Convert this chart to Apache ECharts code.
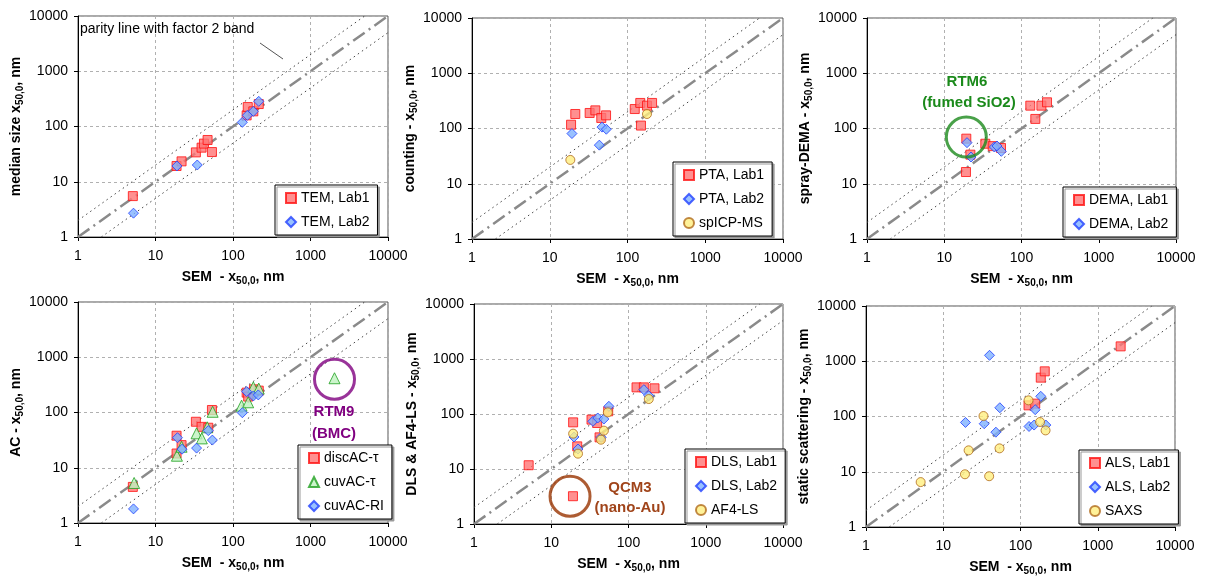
<!DOCTYPE html>
<html>
<head>
<meta charset="utf-8">
<script src="https://cdn.jsdelivr.net/npm/echarts@6.0.0/dist/echarts.min.js"></script>
<style>
  html, body { margin: 0; padding: 0; background: #fff; }
  #chart { width: 1206px; height: 580px; }
</style>
</head>
<body>
<div id="chart"></div>
<script>
// axis range (log10), SEM on x in every panel
const axisMin = 1;
const axisMax = 10000;

// parity line and factor 2 band
const parityLine = [[1, 1], [10000, 10000]];
const upperBand = [[1, 2], [5000, 10000]];
const lowerBand = [[2, 1], [10000, 5000]];

// panel 1 - TEM
const temLab1 = [[5.1, 5.5], [18.7, 19.3], [21.7, 23.4], [33.2, 34], [39.3, 41.4], [42.2, 49], [47, 57], [53.5, 34.5], [150, 159], [155, 225], [183, 188], [215, 255]];
const temLab2 = [[5.2, 2.7], [18.9, 19.3], [34.6, 20.1], [132, 119], [153, 159], [183, 188], [215, 285]];

// panel 2 - counting
const ptaLab1 = [[18.8, 117], [21.3, 183], [32.6, 191], [38.6, 213], [46, 155], [53, 173], [124, 225], [146, 290], [149, 113], [178, 259], [207, 290]];
const ptaLab2 = [[19.3, 81], [43.4, 50], [47, 106], [53.4, 97]];
const spIcpMs = [[18.4, 27], [178, 183]];

// panel 3 - spray-DEMA
const demaLab1 = [[19.3, 65.5], [21.8, 33.6], [19.1, 16.3], [34, 53], [42.4, 48], [54.3, 44.4], [130, 259], [151, 149], [181, 259], [214, 298]];
const demaLab2 = [[19.7, 55.4], [22.2, 30.5], [44.5, 46.3], [48.2, 48.2], [54.8, 38.6]];

// panel 4 - AC
const discAcTau = [[5.1, 4.5], [18.7, 38], [18.7, 18.1], [21.7, 25.7], [33.2, 68], [39.3, 55], [48, 53], [53.5, 111], [150, 229], [157, 194], [187, 263], [215, 249]];
const cuvAcTau = [[5.3, 5.3], [18.9, 16.5], [21.7, 24], [33.9, 42], [39.6, 34], [46.5, 54], [54.6, 103], [129, 133], [157, 153], [183, 286], [215, 271], [2040, 417]];
const cuvAcRi = [[5.2, 1.8], [19.2, 35], [22, 21.7], [33.9, 22.7], [48, 47], [54.2, 31.7], [132, 99], [150, 239], [183, 199], [212, 208]];

// panel 5 - DLS & AF4-LS
const dlsLab1 = [[5.1, 11.7], [19.1, 3.2], [19.2, 70.5], [21.7, 25.8], [33.2, 79], [39.3, 68.6], [42.2, 37.6], [54.6, 112], [127, 305], [158, 305], [217, 293]];
const dlsLab2 = [[19.7, 38.2], [22.2, 23.1], [34.6, 73.6], [40, 84.6], [44.3, 37.6], [48, 81], [55.7, 138], [158, 277], [183, 215]];
const af4Ls = [[19.2, 43.9], [22.2, 19], [44, 34.1], [48, 49.8], [54, 107], [183, 187]];

// panel 6 - static scattering
const alsLab1 = [[127, 159], [155, 171], [183, 505], [206, 657], [1980, 1860]];
const alsLab2 = [[39.7, 1280], [19.4, 78], [33.9, 74], [48, 52], [54, 144], [129, 66], [150, 70], [155, 133], [183, 232], [213, 70]];
const saxs = [[5.1, 6.5], [19.1, 9], [21.3, 24.4], [33.2, 102], [39.3, 8.3], [53.5, 26.5], [127, 196], [179, 79.5], [211, 56]];

// highlighted outliers (circled)
const rtm6 = [[19.3, 70]];
const rtm9 = [[2040, 400]];
const qcm3 = [[17.5, 3.2]];

const FONT = 'Liberation Sans, Arial, sans-serif';

const markerStyles = {
  red: { symbol: 'rect', symbolSize: 9, itemStyle: { color: '#ff7474', borderColor: '#ff1010', borderWidth: 1 } },
  blue: { symbol: 'diamond', symbolSize: 10, itemStyle: { color: '#80b2ff', borderColor: '#2040ff', borderWidth: 1 } },
  yellow: { symbol: 'circle', symbolSize: 9, itemStyle: { color: '#ffef80', borderColor: '#b06a1a', borderWidth: 1 } },
  green: { symbol: 'triangle', symbolSize: 11, itemStyle: { color: '#bff2bf', borderColor: '#1fa01f', borderWidth: 1 } }
};

const panels = [
  { grid: { left: 78, top: 16, width: 310, height: 221 }, yTitle: 'median size x', legend: { left: 275, top: 185 },
    groups: [['TEM, Lab1', temLab1, 'red'], ['TEM, Lab2', temLab2, 'blue']] },
  { grid: { left: 472, top: 18, width: 311, height: 221 }, yTitle: 'counting - x', legend: { left: 673, top: 162 },
    groups: [['PTA, Lab1', ptaLab1, 'red'], ['PTA, Lab2', ptaLab2, 'blue'], ['spICP-MS', spIcpMs, 'yellow']] },
  { grid: { left: 867, top: 18, width: 309, height: 221 }, yTitle: 'spray-DEMA - x', legend: { left: 1063, top: 187 },
    groups: [['DEMA, Lab1', demaLab1, 'red'], ['DEMA, Lab2', demaLab2, 'blue']] },
  { grid: { left: 78, top: 302, width: 310, height: 221 }, yTitle: 'AC - x', legend: { left: 298, top: 445 },
    groups: [['discAC-τ', discAcTau, 'red'], ['cuvAC-τ', cuvAcTau, 'green'], ['cuvAC-RI', cuvAcRi, 'blue']] },
  { grid: { left: 474, top: 304, width: 309, height: 220 }, yTitle: 'DLS & AF4-LS - x', legend: { left: 685, top: 449 },
    groups: [['DLS, Lab1', dlsLab1, 'red'], ['DLS, Lab2', dlsLab2, 'blue'], ['AF4-LS', af4Ls, 'yellow']] },
  { grid: { left: 866, top: 306, width: 309, height: 221 }, yTitle: 'static scattering - x', legend: { left: 1079, top: 450 },
    groups: [['ALS, Lab1', alsLab1, 'red'], ['ALS, Lab2', alsLab2, 'blue'], ['SAXS', saxs, 'yellow']] }
];

const titleRich = {
  b: { fontFamily: FONT, fontWeight: 'bold', fontSize: 14, color: '#000', lineHeight: 16, verticalAlign: 'top' },
  s: { fontFamily: FONT, fontWeight: 'bold', fontSize: 10, color: '#000', lineHeight: 12, verticalAlign: 'bottom', padding: [7, 0, 0, 0] }
};

function logAxis(i, isX, name) {
  return {
    type: 'log', logBase: 10, min: axisMin, max: axisMax, gridIndex: i,
    name: name, nameLocation: 'middle', nameGap: isX ? 33 : 50,
    nameTextStyle: { rich: titleRich },
    axisLine: { show: true, lineStyle: { color: '#000', width: 1 } },
    axisTick: { show: true, length: 4, lineStyle: { color: '#000' } },
    axisLabel: { fontFamily: FONT, fontSize: 14, color: '#000', margin: isX ? 12 : 10,
      formatter: v => String(Math.round(v)) },
    splitLine: { show: true, lineStyle: { color: '#b0b0b0', type: [3, 3], width: 1 } },
    minorTick: { show: false }
  };
}

const grid = [], xAxis = [], yAxis = [], legend = [], series = [];

panels.forEach((p, i) => {
  grid.push(Object.assign({ show: true, borderColor: '#555', borderWidth: 1, backgroundColor: '#fff' }, p.grid));
  xAxis.push(logAxis(i, true, '{b|SEM  - x}{s|50,0}{b|, nm}'));
  yAxis.push(logAxis(i, false, '{b|' + p.yTitle + '}{s|50,0}{b|, nm}'));

  series.push({ type: 'line', xAxisIndex: i, yAxisIndex: i, data: parityLine, symbol: 'none', silent: true,
    lineStyle: { color: '#8a8a8a', width: 2.5, type: [14, 5, 2, 5] }, z: 1 });
  [upperBand, lowerBand].forEach(b => series.push({ type: 'line', xAxisIndex: i, yAxisIndex: i, data: b, symbol: 'none', silent: true,
    lineStyle: { color: '#444', width: 1, type: [1.5, 3.5] }, z: 1 }));

  p.groups.forEach(g => {
    const st = markerStyles[g[2]];
    series.push({ type: 'scatter', name: g[0], xAxisIndex: i, yAxisIndex: i, data: g[1],
      symbol: st.symbol, symbolSize: st.symbolSize, itemStyle: st.itemStyle, z: 3 });
  });

  legend.push({
    left: p.legend.left, top: p.legend.top, orient: 'vertical',
    data: p.groups.map(g => g[0]),
    backgroundColor: '#fff', borderColor: '#000', borderWidth: 1,
    shadowColor: '#999', shadowOffsetX: 2, shadowOffsetY: 2, shadowBlur: 0,
    padding: [5, 8, 5, 10], itemGap: 8, itemWidth: 10, itemHeight: 10,
    textStyle: { fontFamily: FONT, fontSize: 14, color: '#000', lineHeight: 16 },
    selectedMode: false
  });
});

// circled outliers
[[2, rtm6, '#1b8a1b'], [3, rtm9, '#800080'], [4, qcm3, '#993300']].forEach(c => {
  series.push({ type: 'scatter', xAxisIndex: c[0], yAxisIndex: c[0], data: c[1], symbol: 'circle', symbolSize: 40, silent: true,
    itemStyle: { color: 'rgba(0,0,0,0)', borderColor: c[2], borderWidth: 3 }, z: 4 });
});

function label(text, x, y, color, size) {
  return { type: 'text', x: x, y: y, z: 10,
    style: { text: text, fill: color, font: 'bold ' + size + 'px ' + FONT, align: 'center', verticalAlign: 'middle' } };
}

const graphic = [
  { type: 'text', x: 80, y: 29, z: 10,
    style: { text: 'parity line with factor 2 band', fill: '#000', font: '14px ' + FONT, align: 'left', verticalAlign: 'middle' } },
  { type: 'line', z: 10, shape: { x1: 260, y1: 43, x2: 283, y2: 59 }, style: { stroke: '#555', lineWidth: 1 } },
  label('RTM6', 967, 82, '#1b8a1b', 15),
  label('(fumed SiO2)', 969, 103, '#1b8a1b', 15),
  label('RTM9', 334, 412, '#800080', 15),
  label('(BMC)', 334, 434, '#800080', 15),
  label('QCM3', 630, 488, '#a0441a', 15),
  label('(nano-Au)', 630, 508, '#a0441a', 15)
];

const chart = echarts.init(document.getElementById('chart'), null, { renderer: 'canvas' });
chart.setOption({
  animation: false,
  backgroundColor: '#fff',
  textStyle: { fontFamily: FONT },
  grid: grid, xAxis: xAxis, yAxis: yAxis, legend: legend, series: series, graphic: graphic
});
</script>
</body>
</html>
